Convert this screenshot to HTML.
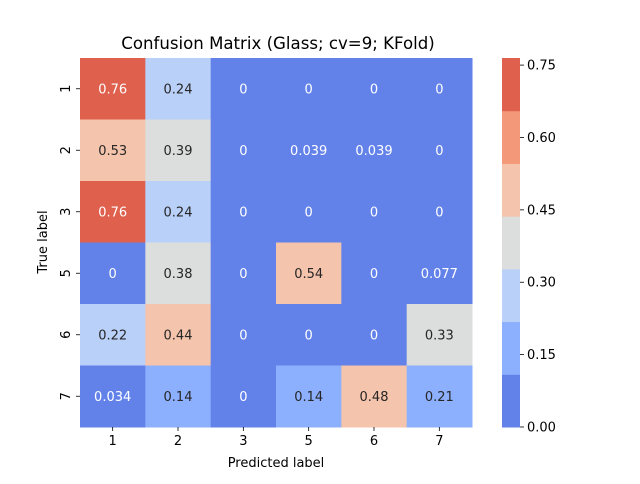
<!DOCTYPE html>
<html><head><meta charset="utf-8"><style>
body{margin:0;background:#fff;font-family:"DejaVu Sans","Liberation Sans",sans-serif}
svg text{font-family:"DejaVu Sans","Liberation Sans",sans-serif}
</style></head><body>
<svg id="chart" width="640" height="480" xmlns="http://www.w3.org/2000/svg">
<rect width="640" height="480" fill="#fff"/>
<text x="278" y="49" font-size="16.6" text-anchor="middle" fill="#000">Confusion Matrix (Glass; cv=9; KFold)</text>
<g id="cells"></g>
<g id="axes"></g>
<g id="cbar"></g>
<text x="276" y="467" font-size="13" text-anchor="middle">Predicted label</text>
<text transform="translate(47,242) rotate(-90)" font-size="13" text-anchor="middle">True label</text>
</svg>
<script>
const xLabels=["1","2","3","5","6","7"];
const yLabels=["1","2","3","5","6","7"];
const row1=[0.76,0.24,0,0,0,0];
const row2=[0.53,0.39,0,0.039,0.039,0];
const row3=[0.76,0.24,0,0,0,0];
const row5=[0,0.38,0,0.54,0,0.077];
const row6=[0.22,0.44,0,0,0,0.33];
const row7=[0.034,0.14,0,0.14,0.48,0.21];
const cbTicks=[0,0.15,0.30,0.45,0.60,0.75];
const vmax=0.7647;
const palette=["#6282ea","#8db0fe","#b9d0f9","#dcdddd","#f5c4ac","#f4987a","#de604d"];
const L=80,T=58,W=392,H=369;
const NS="http://www.w3.org/2000/svg";
const rows=[row1,row2,row3,row5,row6,row7];
const cw=W/xLabels.length, ch=H/yLabels.length;
function xPos(i){return L+i*cw;}
function yPos(j){return T+j*ch;}
function bin(v){return Math.min(palette.length-1,Math.max(0,Math.floor(v/vmax*palette.length)));}
function fmt(v){return v===0?"0":String(v);}
function mk(tag,attrs,parent){const e=document.createElementNS(NS,tag);for(const k in attrs)e.setAttribute(k,attrs[k]);parent.appendChild(e);return e;}
const cells=document.getElementById('cells'),axes=document.getElementById('axes'),cbar=document.getElementById('cbar');
rows.forEach((r,j)=>r.forEach((v,i)=>{
 const b=bin(v);
 const rc=mk('rect',{x:xPos(i),y:yPos(j),width:cw+0.5,height:ch+0.5,fill:palette[b]},cells);
 
 
 const t=mk('text',{x:xPos(i)+cw/2,y:yPos(j)+ch/2+4.5,'font-size':13,'text-anchor':'middle',fill:(b===0||b===6)?'#fff':'#262626'},cells);
 t.textContent=fmt(v);
 
 
}));
xLabels.forEach((l,i)=>{
 const cx=xPos(i)+cw/2;
 mk('line',{x1:cx,x2:cx,y1:T+H,y2:T+H+4,stroke:'#000','stroke-width':0.8},axes);
 const t=mk('text',{x:cx,y:T+H+18,'font-size':13,'text-anchor':'middle'},axes);
 t.textContent=l;
 
 
});
yLabels.forEach((l,j)=>{
 const cy=yPos(j)+ch/2;
 mk('line',{x1:L-4,x2:L,y1:cy,y2:cy,stroke:'#000','stroke-width':0.8},axes);
 const t=mk('text',{transform:`translate(${L-10},${cy}) rotate(-90)`,'font-size':13,'text-anchor':'middle'},axes);
 t.textContent=l;
 
 
});
const CX=502,CW=18;
function cy(v){return T+H-v/vmax*H;}
palette.forEach((c,k)=>{
 const y0=cy((k+1)*vmax/palette.length),y1=cy(k*vmax/palette.length);
 const r=mk('rect',{x:CX,y:y0,width:CW,height:y1-y0+0.5,fill:c},cbar);
 
 
});
cbTicks.forEach(v=>{
 const y=cy(v);
 mk('line',{x1:CX+CW,x2:CX+CW+4,y1:y,y2:y,stroke:'#000','stroke-width':0.8},cbar);
 const t=mk('text',{x:CX+CW+7,y:y+4.5,'font-size':13},cbar);
 t.textContent=v.toFixed(2);
 
 
});
</script>
</body></html>
